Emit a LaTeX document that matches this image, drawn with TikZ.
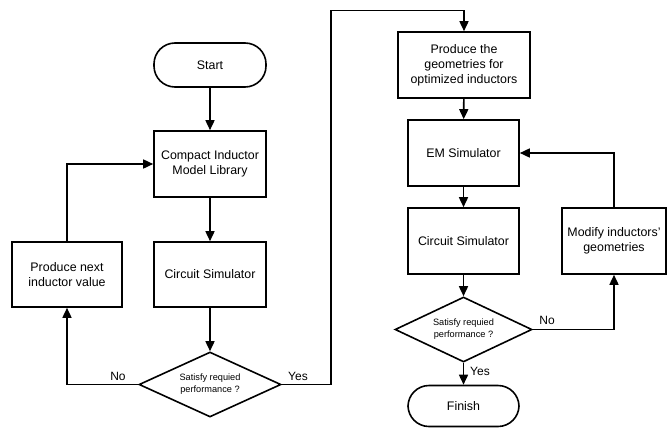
\documentclass[tikz,border=0pt]{standalone}
\usepackage{fontspec}
\setmainfont{Liberation Sans}
\usetikzlibrary{shapes.geometric,arrows.meta}
\begin{document}
\begin{tikzpicture}[x=1pt,y=-1pt,
  box/.style={draw,line width=1.6pt,inner sep=2pt,align=center,font=\fontsize{12.4}{15}\selectfont},
  term/.style={box,rounded corners=21pt},
  dec/.style={draw,line width=1.6pt,shape=diamond,inner sep=0pt,aspect=2.2,align=center,font=\fontsize{9.2}{12}\selectfont},
  conn/.style={line width=1.6pt,-{Triangle[length=10pt,width=9pt]}},
  lbl/.style={font=\fontsize{12}{14}\selectfont,inner sep=0pt}]
\useasboundingbox (0,0) rectangle (668,428);
% left column
\node[term,minimum width=112pt,minimum height=44pt] (start) at (210,65) {Start};
\node[box,minimum width=112pt,minimum height=66pt] (lib) at (210,164) {Compact Inductor\\Model Library};
\node[box,minimum width=112pt,minimum height=65pt] (cs1) at (210,274.5) {Circuit Simulator};
\node[dec,minimum width=142pt,minimum height=65pt] (d1) at (210,384.5) {Satisfy requied\\performance ?};
\node[box,minimum width=110pt,minimum height=65pt] (next) at (67,274.5) {Produce next\\inductor value};
% right column
\node[box,minimum width=132pt,minimum height=66pt] (geo) at (464,65) {Produce the\\geometries for\\optimized inductors};
\node[box,minimum width=111pt,minimum height=66pt] (em) at (463.5,153) {EM Simulator};
\node[box,minimum width=111pt,minimum height=66pt] (cs2) at (463.5,241) {Circuit Simulator};
\node[dec,minimum width=137pt,minimum height=65pt] (d2) at (463.5,329.5) {Satisfy requied\\performance ?};
\node[term,minimum width=111pt,minimum height=41pt] (fin) at (463.5,406) {Finish};
\node[box,minimum width=104pt,minimum height=66pt] (mod) at (614,241) {Modify inductors'\\geometries};
\coordinate (c1) at (331,10.7);
% connectors
\draw[conn] (start) -- (lib);
\draw[conn] (lib) -- (cs1);
\draw[conn] (cs1) -- (d1);
\draw[conn] (d1.west) -| (next.south);
\draw[conn] (next.north) |- (lib.west);
\draw[conn] (d1.east) -| (c1) -| (geo.north);
\draw[conn] (geo) -- (em);
\draw[conn] (em) -- (cs2);
\draw[conn] (cs2) -- (d2);
\draw[conn] (d2) -- (fin);
\draw[conn] (d2.east) -| (mod.south);
\draw[conn] (mod.north) |- (em.east);
% labels
\node[lbl] (no1) at (118,376) {No};
\node[lbl] (yes1) at (298,376) {Yes};
\node[lbl] (no2) at (547,320) {No};
\node[lbl] (yes2) at (480,371) {Yes};
\end{tikzpicture}
\end{document}
